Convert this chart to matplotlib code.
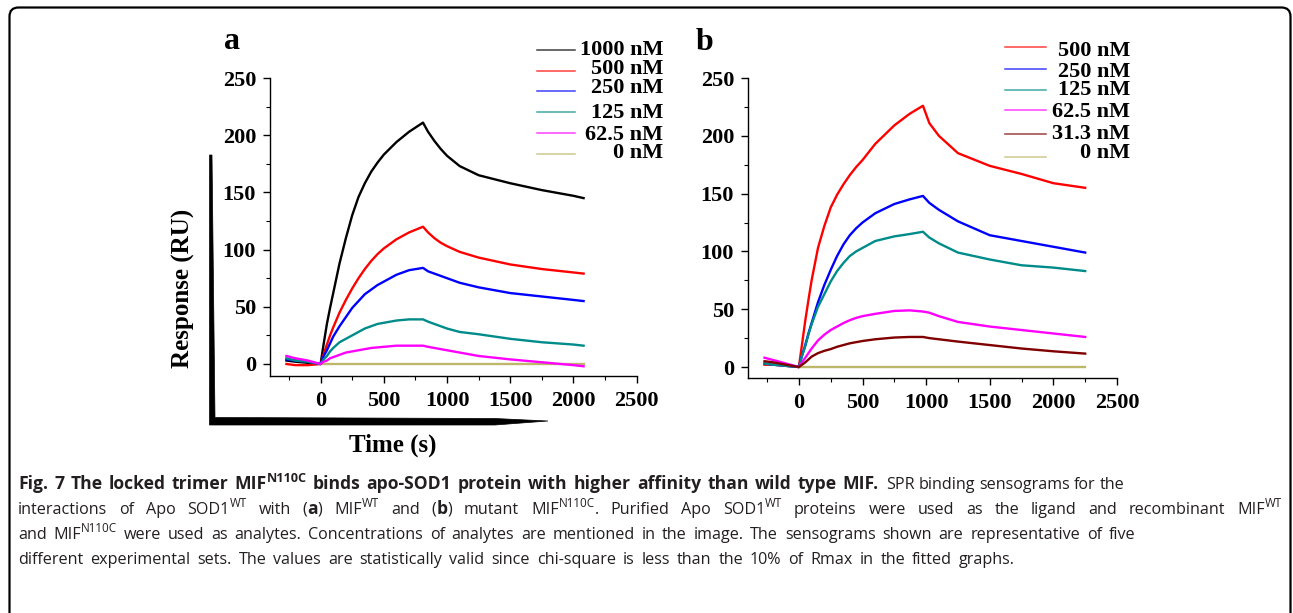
import matplotlib
matplotlib.use('Agg')
import matplotlib.pyplot as plt
from matplotlib.ticker import MultipleLocator
from matplotlib.patches import FancyBboxPatch, Polygon
from matplotlib.lines import Line2D

W, H, DPI = 1293, 613, 100

# ---------------- data ----------------
# Panel a: Apo SOD1 WT with MIF WT
time_a = [-270, -200, -100, 0, 25, 50, 75, 100, 150, 200, 250, 300, 350, 400, 450, 500,
          600, 700, 810, 850, 900, 950, 1000, 1100, 1250, 1500, 1750, 2000, 2080]
a_1000 = [3, 2, 1, 0, 18, 35, 49, 62, 88, 110, 130, 146, 158, 168, 176, 183,
          194, 203, 211, 203, 195, 188, 182, 173, 165, 158, 152, 147, 145]
a_500 = [0, -1, -1, 0, 9, 17, 25, 32, 45, 56, 66, 75, 83, 90, 96, 101,
         109, 115, 120, 115, 110, 106, 103, 98, 93, 87, 83, 80, 79]
a_250 = [4, 3, 2, 0, 7, 12, 18, 24, 33, 41, 49, 55, 61, 65, 69, 72,
         78, 82, 84, 81, 79, 77, 75, 71, 67, 62, 59, 56, 55]
a_125 = [5, 3, 2, 0, 4, 7, 11, 14, 19, 22, 25, 28, 31, 33, 35, 36,
         38, 39, 39, 37, 35, 33, 31, 28, 26, 22, 19, 17, 16]
a_62 = [7, 5, 3, 0, 2, 3, 5, 6, 8, 10, 11, 12, 13, 14, 14.5, 15,
        16, 16, 16, 15, 14, 13, 12, 10, 7, 4, 1.5, -1, -2]
zero_time_a = [0, 2080]
a_0 = [0, 0]

# Panel b: Apo SOD1 WT with MIF N110C
time_b = [-270, -200, -100, 0, 25, 50, 75, 100, 150, 200, 250, 300, 350, 400, 450, 500,
          600, 750, 870, 975, 1025, 1100, 1250, 1500, 1750, 2000, 2250]
b_500 = [2, 2, 1, 0, 20, 40, 58, 75, 103, 122, 138, 149, 158, 166, 173, 179,
         193, 209, 219, 226, 211, 200, 185, 174, 167, 159, 155]
b_250 = [3, 2, 1, 0, 10, 19, 29, 38, 56, 71, 84, 96, 106, 114, 120, 125,
         133, 141, 145, 148, 142, 136, 126, 114, 109, 104, 99]
b_125 = [3, 2, 1, 0, 10, 18, 28, 37, 52, 63, 74, 83, 90, 96, 100, 103,
         109, 113, 115, 117, 112, 107, 99, 93, 88, 86, 83]
b_62 = [8, 6, 3, 0, 4, 8, 12, 16, 23, 28, 32, 35, 38, 40.5, 42.5, 44,
        46, 48.5, 49, 48, 47, 44, 39, 35, 32, 29, 26]
b_31 = [5, 4, 2, 0, 2, 4, 6.5, 9, 12, 14, 15.5, 17.5, 19, 20.5, 21.5, 22.5,
        24, 25.5, 26, 26, 25, 24, 22, 19, 16, 13.6, 11.6]
zero_time_b = [0, 2250]
b_0 = [0, 0]

labels_a = ["1000 nM", "500 nM", "250 nM", "125 nM", "62.5 nM", "0 nM"]
labels_b = ["500 nM", "250 nM", "125 nM", "62.5 nM", "31.3 nM", "0 nM"]

C_BLACK, C_RED, C_BLUE, C_TEAL, C_MAG, C_BROWN, C_ZERO = (
    "#000000", "#ff0000", "#0000ff", "#008b8b", "#ff00ff", "#800000", "#bdb76b")

x_ticks = [0, 500, 1000, 1500, 2000, 2500]
y_ticks = [0, 50, 100, 150, 200, 250]

# ---------------- figure ----------------
plt.rcParams['font.family'] = ['Liberation Serif', 'DejaVu Serif']
plt.rcParams['font.weight'] = 'bold'

fig = plt.figure(figsize=(W / DPI, H / DPI), dpi=DPI)
ov = fig.add_axes([0, 0, 1, 1])
ov.set_xlim(0, W)
ov.set_ylim(H, 0)
ov.axis('off')


def rect(l, t, r, b):
    return [l / W, 1 - b / H, (r - l) / W, (b - t) / H]


axA = fig.add_axes(rect(270, 78, 636.7, 376))
axB = fig.add_axes(rect(748, 78, 1117, 378))

for ax, ylo in ((axA, -10.5), (axB, -9.5)):
    ax.set_facecolor('none')
    ax.set_xlim(-400, 2500)
    ax.set_ylim(ylo, 250)
    for s in ('top', 'right'):
        ax.spines[s].set_visible(False)
    for s in ('left', 'bottom'):
        ax.spines[s].set_linewidth(1.0)
    ax.set_xticks(x_ticks)
    ax.set_yticks(y_ticks)
    ax.xaxis.set_minor_locator(MultipleLocator(250))
    ax.yaxis.set_minor_locator(MultipleLocator(25))
    ax.tick_params(which='major', direction='out', length=5, width=1, labelsize=16)
    ax.tick_params(which='minor', direction='out', length=3, width=0.8)
    ax.tick_params(axis='x', which='major', pad=6)
    ax.tick_params(axis='y', which='major', pad=5)

lw = 1.7
axA.plot(zero_time_a, a_0, color=C_ZERO, lw=lw)
axA.plot(time_a, a_1000, color=C_BLACK, lw=lw)
axA.plot(time_a, a_500, color=C_RED, lw=lw)
axA.plot(time_a, a_250, color=C_BLUE, lw=lw)
axA.plot(time_a, a_125, color=C_TEAL, lw=lw)
axA.plot(time_a, a_62, color=C_MAG, lw=lw)

axB.plot(zero_time_b, b_0, color=C_ZERO, lw=lw)
axB.plot(time_b, b_500, color=C_RED, lw=lw)
axB.plot(time_b, b_250, color=C_BLUE, lw=lw)
axB.plot(time_b, b_125, color=C_TEAL, lw=lw)
axB.plot(time_b, b_62, color=C_MAG, lw=lw)
axB.plot(time_b, b_31, color=C_BROWN, lw=lw)

# ---------------- legends (drawn manually, as in the figure) ----------------
cols_a = [C_BLACK, C_RED, C_BLUE, C_TEAL, C_MAG, C_ZERO]
cols_b = [C_RED, C_BLUE, C_TEAL, C_MAG, C_BROWN, C_ZERO]
line_y_a = [50, 70.7, 91, 111.7, 133.3, 154]
base_y_a = [55, 74.3, 93.3, 117.7, 140, 158.3]
line_y_b = [47, 69, 90, 110, 134, 157]
base_y_b = [56, 76.7, 95, 117.3, 139.3, 158.3]
for lab, c, ly, by in zip(labels_a, cols_a, line_y_a, base_y_a):
    ov.add_line(Line2D([537, 575], [ly, ly], color=c, lw=1.1, alpha=0.75))
    ov.text(663, by, lab, ha='right', va='baseline', fontsize=16, fontweight='bold')
for lab, c, ly, by in zip(labels_b, cols_b, line_y_b, base_y_b):
    ov.add_line(Line2D([1005, 1046], [ly, ly], color=c, lw=1.1, alpha=0.75))
    ov.text(1130, by, lab, ha='right', va='baseline', fontsize=16, fontweight='bold')

# panel letters
ov.text(224, 49, 'a', ha='left', va='baseline', fontsize=23, fontweight='bold')
ov.text(696, 50, 'b', ha='left', va='baseline', fontsize=23, fontweight='bold')

# axis titles and L-shaped wedge
ov.text(183, 288, 'Response (RU)', rotation=90, ha='center', va='center',
        fontsize=18, fontweight='bold')
ov.text(392.5, 445, 'Time (s)', ha='center', va='center', fontsize=18, fontweight='bold')
wedge = Polygon([(209.5, 155), (212, 155), (215, 417.5), (495, 418.5), (548, 421),
                 (495, 425), (209.5, 425)], closed=True, facecolor='black',
                edgecolor='black', lw=0.5)
ov.add_patch(wedge)

# frame
frame = FancyBboxPatch((9.5, 7.5), 1281, 700, boxstyle="round,pad=0,rounding_size=9",
                       fill=False, lw=1.6, ec='black')
ov.add_patch(frame)

# ---------------- caption ----------------
CAP_FONT = ['Open Sans', 'DejaVu Sans']
CAP_COL = '#231f20'
SIZE_N = 11.6
SIZE_B = 12.6
MIN_SP = 4.0
renderer = fig.canvas.get_renderer()


def rich_line(x0, x1, y, segs):
    """Place words of mixed styles on one line, spread between x0 and x1."""
    items = []
    for txt, style in segs:
        parts = txt.split(' ')
        for i, p in enumerate(parts):
            if i > 0:
                items.append(None)
            if p:
                items.append((p, style))
    arts = []
    total = 0.0
    nsp = 0
    for it in items:
        if it is None:
            nsp += 1
            arts.append(None)
            continue
        p, style = it
        bold = 'b' in style
        sup = 's' in style
        base = SIZE_B if bold else SIZE_N
        fs = base * 0.72 if sup else base
        yy = y - base * 0.42 * DPI / 72 if sup else y
        t = ov.text(0, yy, p, fontsize=fs, fontweight='bold' if bold else 'normal',
                    family=CAP_FONT, color=CAP_COL, ha='left', va='baseline')
        w = t.get_window_extent(renderer).width
        total += w
        arts.append((t, w))
    sp = max((x1 - x0 - total) / max(nsp, 1), MIN_SP)
    x = x0
    for a in arts:
        if a is None:
            x += sp
        else:
            t, w = a
            t.set_x(x)
            x += w


rich_line(18, 879, 489, [("Fig. 7 The locked trimer MIF", 'b'), ("N110C", 'bs'),
                         (" binds apo-SOD1 protein with higher affinity than wild type MIF.", 'b')])
rich_line(886, 1105, 489, [("SPR binding sensograms for the", 'n')])
rich_line(18, 1282, 514, [("interactions of Apo SOD1", 'n'), ("WT", 'ns'), (" with (", 'n'),
                          ("a", 'b'), (") MIF", 'n'), ("WT", 'ns'), (" and (", 'n'), ("b", 'b'),
                          (") mutant MIF", 'n'), ("N110C", 'ns'), (". Purified Apo SOD1", 'n'),
                          ("WT", 'ns'),
                          (" proteins were used as the ligand and recombinant MIF", 'n'),
                          ("WT", 'ns')])
rich_line(18, 1135, 539, [("and MIF", 'n'), ("N110C", 'ns'),
                          (" were used as analytes. Concentrations of analytes are mentioned in "
                           "the image. The sensograms shown are representative of five", 'n')])
rich_line(18, 1015, 564, [("different experimental sets. The values are statistically valid since "
                           "chi-square is less than the 10% of Rmax in the fitted graphs.", 'n')])

fig.savefig('out.png', dpi=DPI)
